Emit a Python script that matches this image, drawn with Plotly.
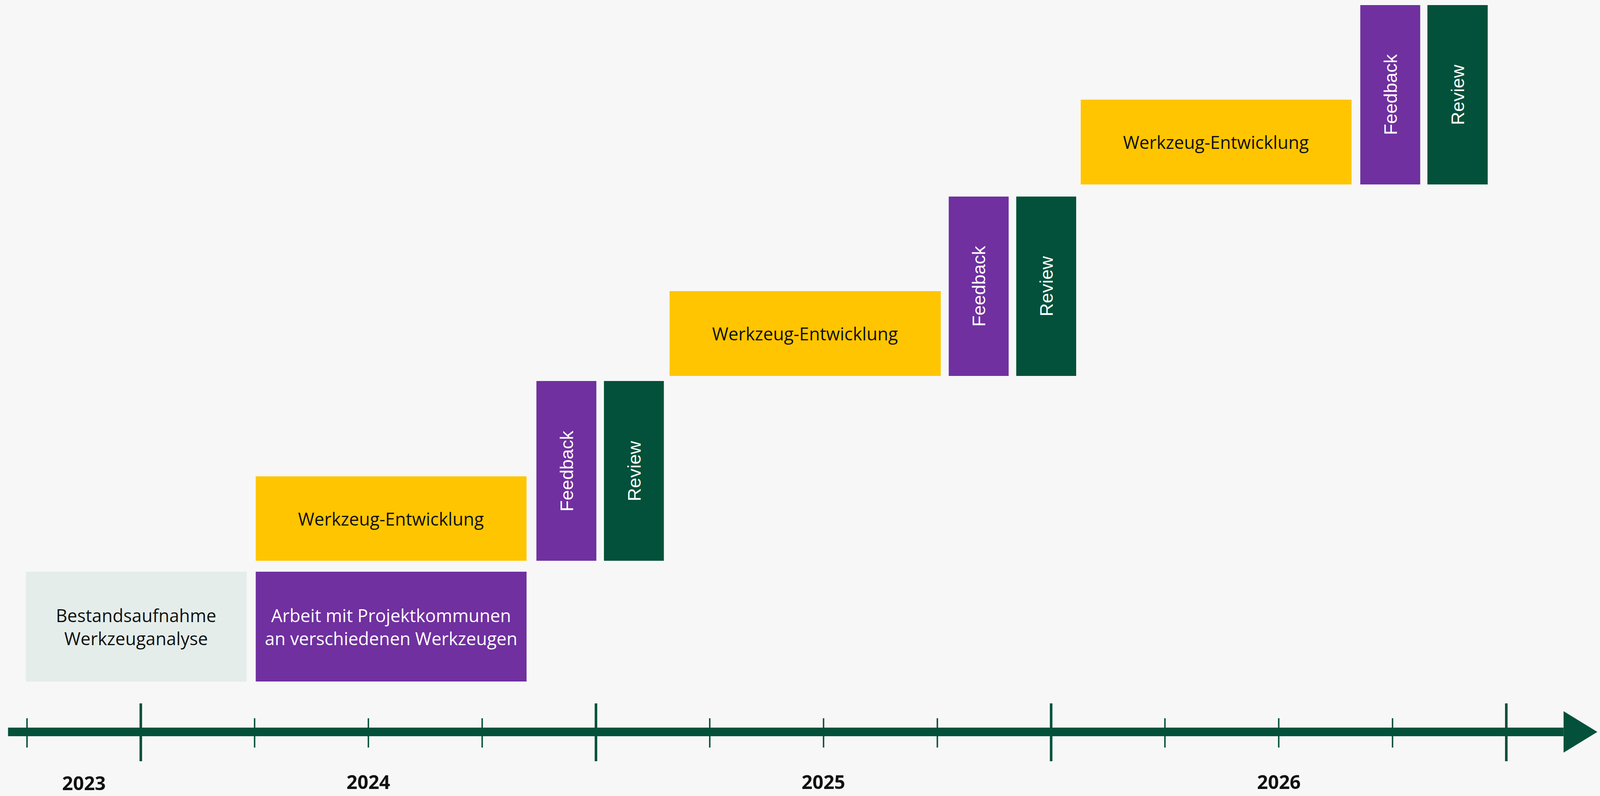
import plotly.graph_objects as go

# ---- data (x in months relative to Jan 2024, y in layout units above the time axis) ----
task_labels = ["Bestandsaufnahme<br>Werkzeuganalyse",
               "Arbeit mit Projektkommunen<br>an verschiedenen Werkzeugen",
               "Werkzeug-Entwicklung", "Feedback", "Review",
               "Werkzeug-Entwicklung", "Feedback", "Review",
               "Werkzeug-Entwicklung", "Feedback", "Review"]
task_kind = ["bestand", "arbeit", "entwicklung", "feedback", "review",
             "entwicklung", "feedback", "review",
             "entwicklung", "feedback", "review"]
task_start = [-3.03, 3.03, 3.03, 10.43, 12.21, 13.94, 21.30, 23.08, 24.78, 32.15, 33.92]
task_end = [2.79, 10.17, 10.17, 12.01, 13.79, 21.09, 22.88, 24.66, 31.92, 33.73, 35.51]
task_bottom = [129, 129, 438, 438, 438, 911, 911, 911, 1401, 1401, 1401]
task_top = [410, 410, 654, 898, 898, 1128, 1370, 1370, 1618, 1860, 1860]

quarter_ticks = [-3, 3, 6, 9, 15, 18, 21, 27, 30, 33]
year_ticks = [0, 12, 24, 36]
year_labels = ["2023", "2024", "2025", "2026"]
year_label_pos = [-1.5, 6, 18, 30]

axis_start = -3.5
axis_end = 37.51
arrow_tip = 38.40

# ---- styles ----
BG = "#F7F7F7"
GREEN = "#03513A"
fill = {"bestand": "#E4EDEA", "arbeit": "#7030A0", "entwicklung": "#FFC500",
        "feedback": "#7030A0", "review": "#03513A"}
txt_col = {"bestand": "#111111", "arbeit": "#FFFFFF", "entwicklung": "#111111",
           "feedback": "#FFFFFF", "review": "#FFFFFF"}

fig = go.Figure()

for lab, k, s, e, b, t in zip(task_labels, task_kind, task_start, task_end, task_bottom, task_top):
    fig.add_trace(go.Bar(orientation="h", y=[(b + t) / 2], x=[e - s], base=[s],
                         width=[t - b], marker=dict(color=fill[k], line=dict(width=0)),
                         hoverinfo="skip", showlegend=False))
    rotated = k in ("feedback", "review")
    fig.add_annotation(x=(s + e) / 2, y=(b + t) / 2, text=lab, showarrow=False,
                       textangle=-90 if rotated else 0,
                       font=dict(family="Liberation Sans" if rotated else "Open Sans",
                                 size=52 if rotated else 50, color=txt_col[k]),
                       xanchor="center", yanchor="middle")

# time axis arrow
fig.add_shape(type="rect", x0=axis_start, x1=axis_end, y0=-11, y1=11,
              fillcolor=GREEN, line=dict(width=0), layer="below")
fig.add_shape(type="path",
              path=f"M {axis_end},53 L {arrow_tip},0 L {axis_end},-53 Z",
              fillcolor=GREEN, line=dict(width=0), layer="below")
for q in quarter_ticks:
    fig.add_shape(type="line", x0=q, x1=q, y0=-40, y1=35,
                  line=dict(color=GREEN, width=4.5))
for yv in year_ticks:
    fig.add_shape(type="line", x0=yv, x1=yv, y0=-75, y1=73,
                  line=dict(color=GREEN, width=8))
for lab, xp in zip(year_labels, year_label_pos):
    fig.add_annotation(x=xp, y=-127 if lab != "2023" else -130, text=f"<b>{lab}</b>",
                       showarrow=False,
                       font=dict(family="Open Sans", size=54, color="#111111"),
                       xanchor="center", yanchor="middle")

fig.update_layout(width=4994, height=2037, margin=dict(l=0, r=0, t=0, b=0),
                  paper_bgcolor=BG, plot_bgcolor=BG, barmode="overlay",
                  xaxis=dict(range=[-3.712, 38.47], visible=False, fixedrange=True),
                  yaxis=dict(range=[-164, 1873], visible=False, fixedrange=True),
                  showlegend=False)

# fit the 4994x2037 design to the actual browser viewport
post = """
var gd = document.getElementById('{plot_id}');
document.documentElement.style.margin = '0';
document.documentElement.style.padding = '0';
document.documentElement.style.overflow = 'hidden';
document.body.style.margin = '0';
document.body.style.padding = '0';
document.body.style.overflow = 'hidden';
var W = window.innerWidth;
var H = window.innerHeight;
var sx = W / 4994;
var sy = H / 2037;
var f = Math.sqrt(sx * sy);
gd.style.width = W + 'px';
gd.style.height = H + 'px';
var upd = {width: W, height: H};
var anns = gd.layout.annotations || [];
for (var i = 0; i < anns.length; i++) {
  upd['annotations[' + i + '].font.size'] = anns[i].font.size * f;
}
var shs = gd.layout.shapes || [];
for (var j = 0; j < shs.length; j++) {
  if (shs[j].type === 'line') {
    upd['shapes[' + j + '].line.width'] = shs[j].line.width * sx;
  }
}
return Plotly.relayout(gd, upd);
"""

fig.write_html("out.html", config={"displayModeBar": False}, post_script=post)
